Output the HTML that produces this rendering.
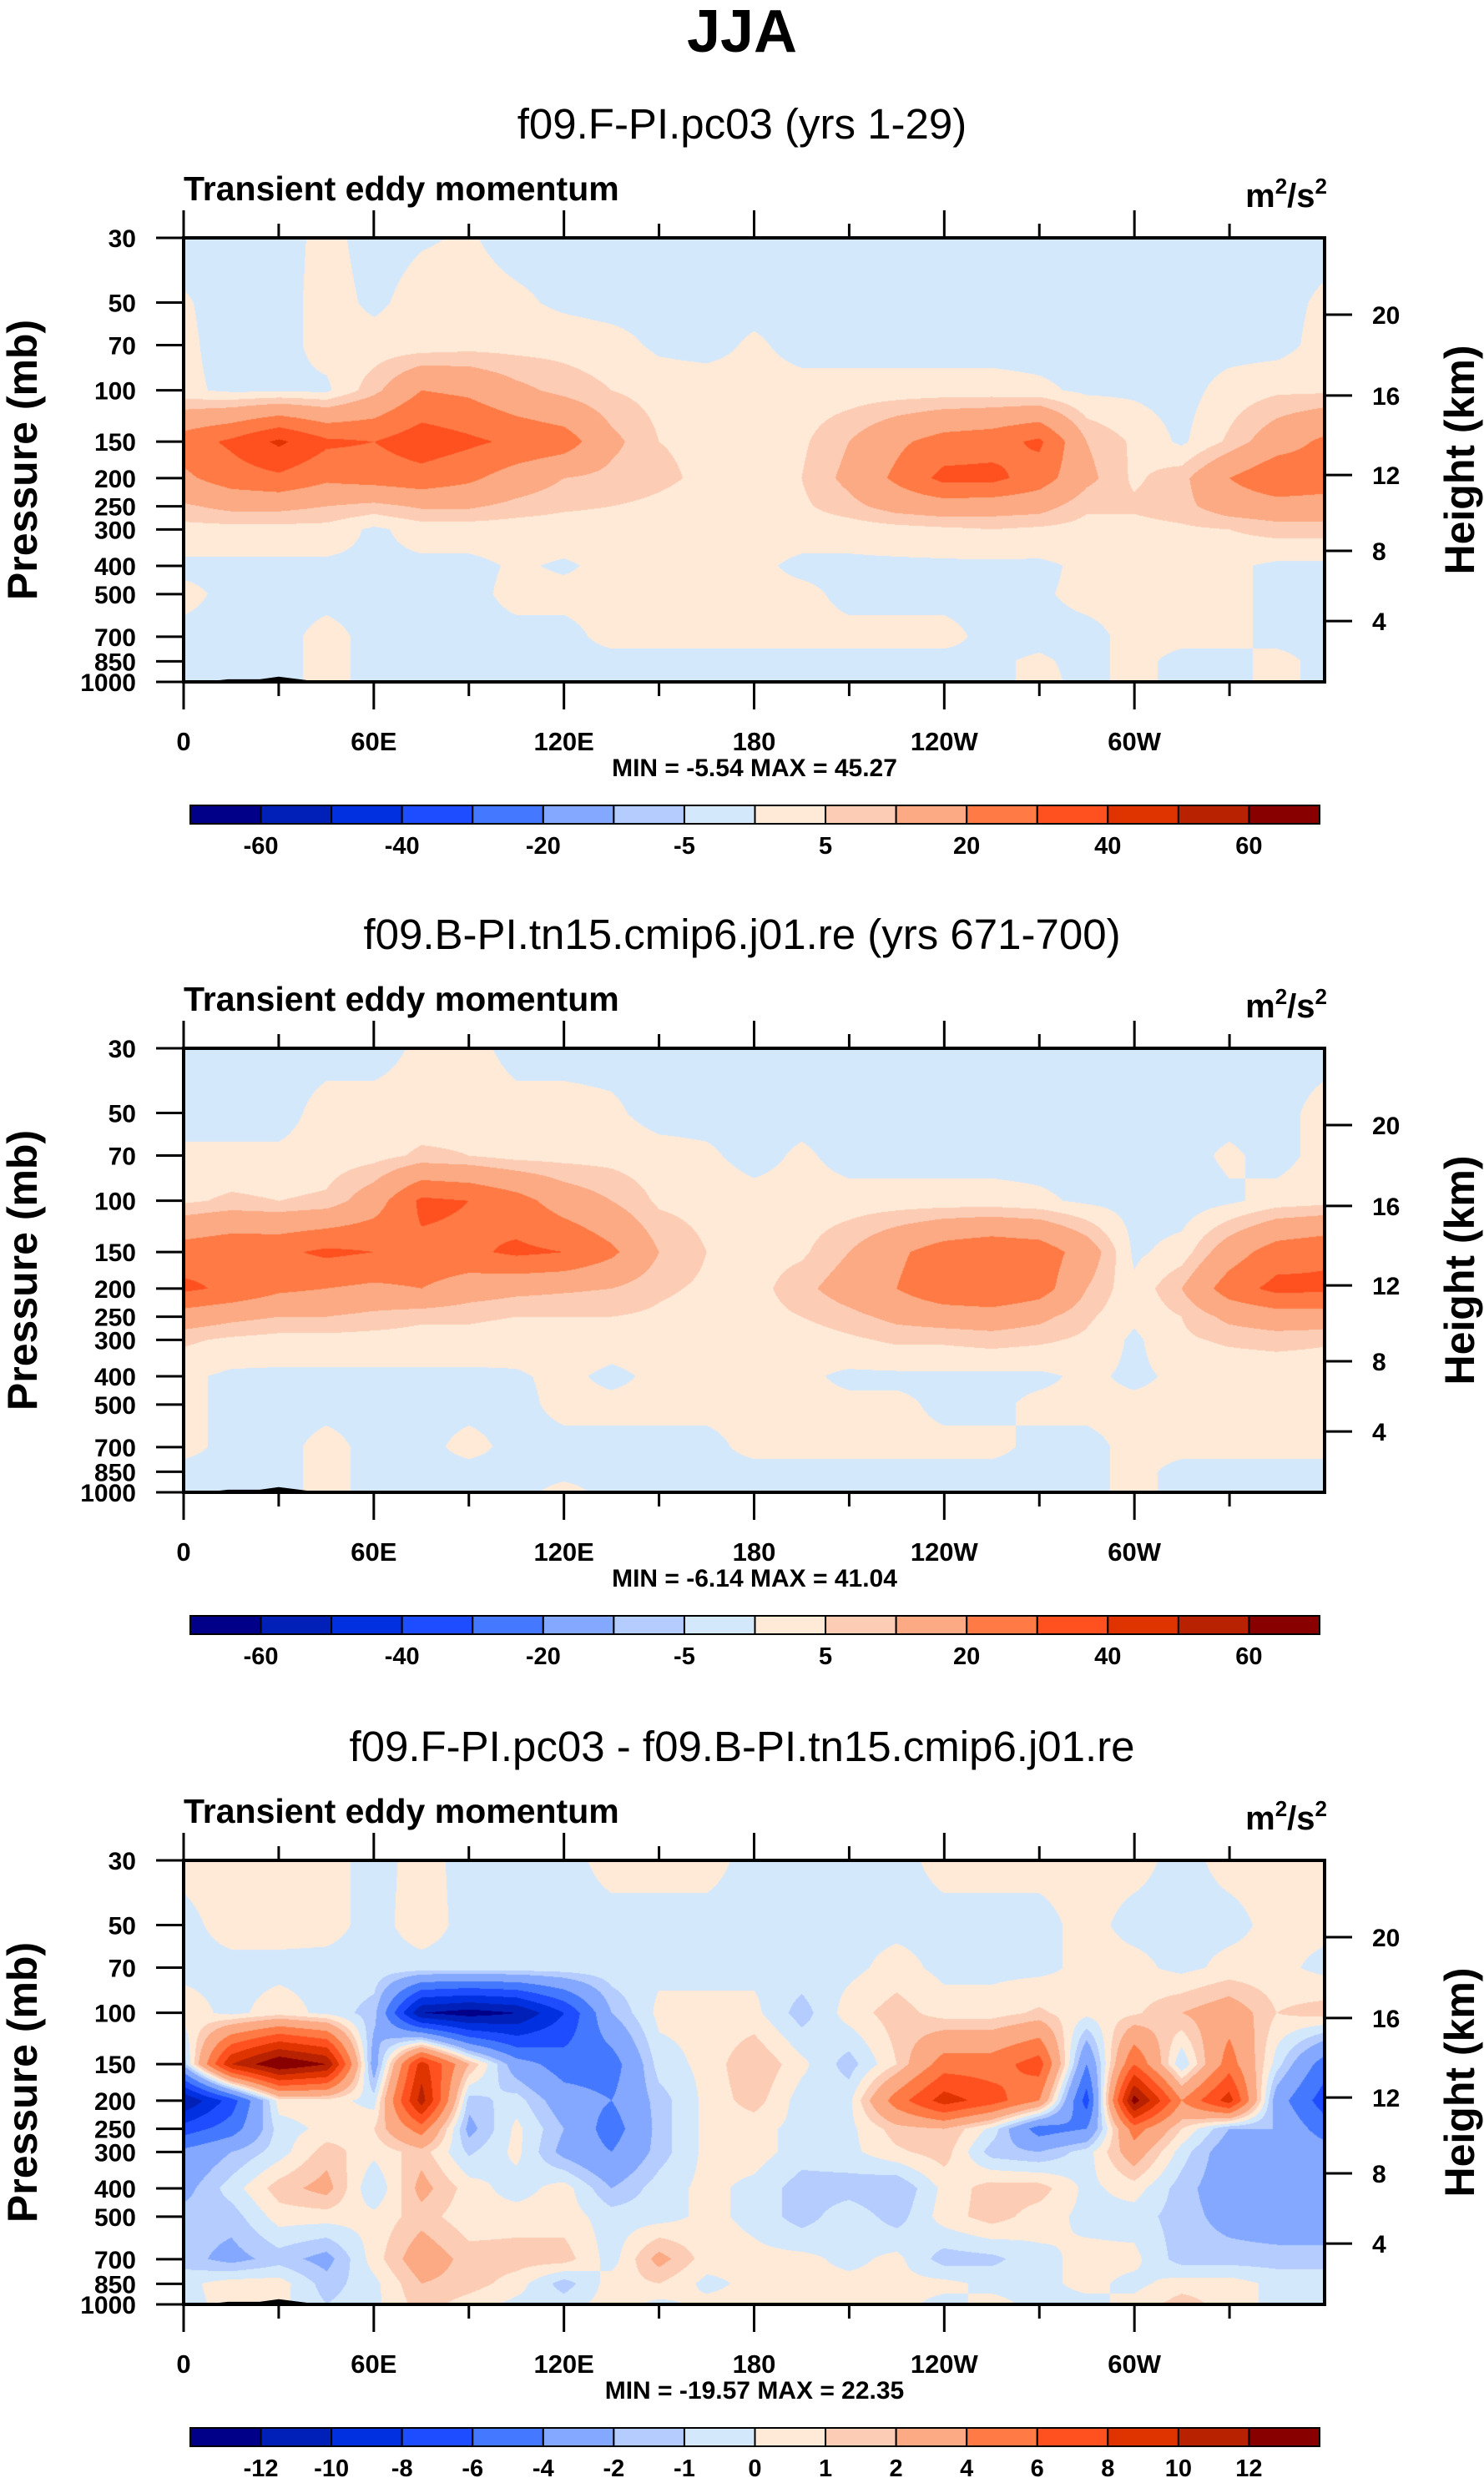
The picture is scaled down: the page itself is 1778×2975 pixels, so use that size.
<!DOCTYPE html>
<html><head><meta charset="utf-8">
<style>
html,body{margin:0;padding:0;background:#fff;}
#wrap{position:relative;width:1778px;height:2975px;overflow:hidden;font-family:"Liberation Sans",Arial,sans-serif;}
canvas{position:absolute;}
svg{position:absolute;left:0;top:0;}
text{font-family:"Liberation Sans",Arial,sans-serif;}
</style></head>
<body>
<div id="wrap">
<canvas id="c0"></canvas>
<canvas id="c1"></canvas>
<canvas id="c2"></canvas>
<svg id="ov" width="1778" height="2975">
<text x="889" y="62" text-anchor="middle" font-size="72" font-weight="bold">JJA</text>
<text x="889" y="166" text-anchor="middle" font-size="51">f09.F-PI.pc03 (yrs 1-29)</text>
<text x="889" y="1137" text-anchor="middle" font-size="51">f09.B-PI.tn15.cmip6.j01.re (yrs 671-700)</text>
<text x="889" y="2110" text-anchor="middle" font-size="51">f09.F-PI.pc03 - f09.B-PI.tn15.cmip6.j01.re</text>
</svg>
</div>
<script>
const lons = [0,15,30,45,60,75,90,105,120,135,150,165,180,195,210,225,240,255,270,285,300,315,330,345,360];
const levels = [30,50,70,100,150,200,250,300,400,500,700,850,1000];
const pTicks = [30,50,70,100,150,200,250,300,400,500,700,850,1000];
const hTicks = [20,16,12,8,4];
const hTickFrac = [0.173,0.355,0.534,0.705,0.863];
const xTickLabels = ["0","60E","120E","180","120W","60W"];
const contourLevelsAB = [-60,-50,-40,-30,-20,-10,-5,0,5,10,20,30,40,50,60];
const contourLevelsDiff = [-12,-10,-8,-6,-4,-2,-1,0,1,2,4,6,8,10,12];
const cbLabelsAB = ["-60","","-40","","-20","","-5","","5","","20","","40","","60"];
const cbLabelsDiff = ["-12","-10","-8","-6","-4","-2","-1","0","1","2","4","6","8","10","12"];
const palette = ["#000088","#0020b8","#0030e0","#1e4cff","#4478ff","#84a8ff","#b4ccff","#d4e8fc","#ffead8","#fdccb4","#fcaa84","#ff7a44","#ff5020","#e03400","#b82200","#880000"];
const minmax = ["MIN =  -5.54   MAX =  45.27","MIN =  -6.14   MAX =  41.04","MIN = -19.57  MAX = 22.35"];

const fieldA = [
[-2,-2,-2,1.5,-2,-0.5,0.5,-2,-2,-2,-2,-2,-2,-2,-2,-2,-2,-2,-2,-2,-2,-2,-2,-2,-2],
[0.5,-2,-2,2,-1,2,2,1,-1,-2,-2,-2,-2,-2,-2,-2,-2,-2,-2,-2,-2,-2,-2,-2,1],
[1,-2,-2,2,2,2,3,3,3,2,-1,-2,1,-2,-2,-2,-2,-2,-2,-2,-2,-2,-2,-2,2],
[1,-1,-1,-1,8,20,18,12,8,5,3,3,2,2,2,2,2,2,1,-1,-1,-2,2,4,4],
[25,32,42,32,30,36,32,28,25,12,5,4,2,4,10,18,24,26,32,10,4,-1,6,15,22],
[18,25,28,22,24,26,22,15,10,8,6,4,3,5,12,22,33,33,25,12,4,8,20,28,25],
[9,12,12,10,8,11,11,8,6,5,4,3,3,4,8,13,15,14,13,6,6,8,14,16,16],
[3,3,3,3,-1,2,2,2,2,2,2,2,2,2,2,3,4,5,4,3,3,4,5,7,7],
[-1,-1,-1,-1,-1,-1,-1,0.5,-0.5,1,1,1,1,-1,-1,-1,-1,-1,-1,1,1,1,1,-1,-1],
[1,-1,-1,-1,-1,-1,-1,1,1,1,1,1,1,1,-1,-1,-1,-1,-0.5,1,1,1,1,-1,-1],
[-1,-1,-1,1,-1,-1,-1,-1,-1,1,1,1,1,1,1,1,1,-1,-1,-1,1,1,1,-1,-1],
[-1,-1,-1,1,-1,-1,-1,-1,-1,-1,-1,-1,-1,-1,-1,-1,-1,-0.5,0.5,-1,1,-1,-1,1,-1],
[-1,-1,-1,1,-1,-1,-1,-1,-1,-1,-1,-1,-1,-1,-1,-1,-1,-1,1,-1,1,-1,-1,1,-1]
];
const fieldB = [
[-2,-2,-2,-2,-2,1,2,-2,-2,-2,-2,-2,-2,-2,-2,-2,-2,-2,-2,-2,-2,-2,-2,-2,-2],
[-2,-2,-2,2,2,2,3,2,2,1,-2,-2,-2,-2,-2,-2,-2,-2,-2,-2,-2,-2,-2,-2,2],
[1,1,1,2,3,6,5,3,3,3,2,1,-2,1,-2,-2,-2,-2,-2,-2,-2,-2,1,-2,2],
[4,6,5,6,15,32,30,24,15,10,4,3,2,2,2,2,2,2,1,-1,-2,-3,-1,2,3],
[25,28,28,32,30,28,28,32,30,22,10,5,3,4,10,18,25,28,26,15,-1,2,15,25,28],
[32,28,22,20,18,20,14,12,11,10,6,4,3,8,14,20,28,30,25,10,1,10,25,33,32],
[15,12,10,10,8,6,6,5,5,5,4,3,3,5,8,12,14,15,12,6,1,5,12,15,15],
[6,4,3,3,3,3,3,2,3,2,2,2,2,2,4,6,6,7,6,4,-1,4,6,7,6],
[1,-1,-1,-1,-1,-1,-1,-0.5,1,-1,1,1,1,1,-1,-1,-1,-1,-1,1,-1,1,1,1,1],
[1,-1,-1,-1,-1,-1,-1,-1,1,1,1,1,1,1,1,1,-1,-1,1,1,1,1,1,1,1],
[1,-1,-1,1,-1,-1,1,-1,-1,-1,-1,-1,1,1,1,1,1,1,-1,-1,1,1,1,1,1],
[-1,-1,-1,1,-1,-1,-1,-1,-1,-1,-1,-1,-1,-1,-1,-1,-1,-1,-1,-1,1,-1,-1,-1,-1],
[-1,-1,-1,1,-1,-1,-1,-1,1,-1,-1,-1,-1,-1,-1,-1,-1,-1,-1,-1,1,-1,-1,-1,-1]
];
const fieldDiff = [
[0.3,0.5,0.5,0.3,-0.3,0.3,-0.3,-0.3,-0.3,0.3,0.3,0.3,-0.3,-0.3,-0.3,-0.3,0.3,0.3,0.3,0.3,0.3,-0.3,0.3,0.3,0.3],
[-0.3,0.4,0.4,0.3,-0.3,0.4,-0.3,-0.3,-0.3,-0.3,-0.3,-0.3,-0.3,-0.3,-0.3,-0.3,-0.3,-0.3,-0.3,0.3,-0.3,-0.3,-0.3,0.3,0.3],
[-0.3,-0.3,-0.3,-0.3,-0.3,-0.3,-0.3,-0.3,-0.3,-0.3,-0.3,-0.3,-0.3,-0.3,-0.3,0.4,-0.3,-0.3,-0.3,0.3,0.3,-0.3,0.3,0.3,-0.3],
[0.5,-0.3,0.5,-0.3,-1.5,-12,-13,-12,-8,-2,0.3,0.3,0.3,-1.5,0.5,1.5,0.5,0.5,1.2,0.3,0.8,2,3,1,1.5],
[-1.5,10,14,12,-3,9,2,-3,-5,-5,-0.5,0.3,2,0.3,-1.5,1,5,5,7,-4,6,-1,5,-0.5,-5],
[-12,-7,0.5,0.6,-0.5,11,-1.5,-0.5,-3,-4,-1.5,0.3,1.5,-0.5,-0.3,5,9,7,4,-7,13,4,9,-3,-7],
[-7,-5,-0.5,0.3,1,5,-2.5,0.3,-2,-5,-1.5,0.3,0.3,-0.3,-0.3,1.5,2,-0.3,-5,-4,5,1,-2,-2,-5],
[-3.5,-2,-0.5,1.5,0.3,1.5,-1.2,0.3,-2.5,-4,-1.5,0.3,0.5,-0.5,-0.3,0.8,1.5,-1.5,-2,-0.5,3,-0.5,-3,-2,-3],
[-2.5,-0.5,1.5,2.5,-1,2.5,0.5,-0.5,0.5,-2,-0.5,0.3,-0.3,-1.5,-1.5,-2,0.3,1.5,1.5,-0.3,0.5,-1.5,-3,-2.5,-3],
[-1.5,-1.5,0.5,0.5,0.3,1.5,0.3,0.5,0.5,-0.5,-0.5,0.3,-0.3,-1.5,-0.3,-1.5,0.5,1.5,0.5,-0.3,-0.5,-1.5,-2.5,-3,-3],
[-1.5,-2.5,-1.5,-2.5,0.5,3,1.5,1.5,1.5,-0.5,2.5,0.5,0.3,0.3,-0.3,0.3,-1.5,-1.3,-0.3,0.3,0.3,-1.5,-1.5,-1.5,-1.5],
[-0.3,0.5,0.5,-1.5,-0.3,2,1.5,0.5,-1.5,0.5,1,-0.3,0.3,0.3,0.3,0.3,0.3,-0.3,-0.3,0.3,-0.3,0.5,0.5,-0.3,-0.3],
[-0.3,0.3,0.3,-1,-0.3,1.5,0.5,-0.3,-0.5,0.5,-0.3,0.3,0.3,0.3,0.3,0.3,-0.3,0.3,-0.3,-0.3,0.3,1.5,0.5,-0.3,-0.3]
];
const topoLon = [10,14,24,30,40,97,99,292,296,300,310];
const topoP   = [990,980,980,960,990,990,990,995,990,995,995];

const panels = [
 {field:fieldA, lev:contourLevelsAB, cbl:cbLabelsAB, dy:0},
 {field:fieldB, lev:contourLevelsAB, cbl:cbLabelsAB, dy:971},
 {field:fieldDiff, lev:contourLevelsDiff, cbl:cbLabelsDiff, dy:1944}
];
const PX0=220, PX1=1587, PY0=285, PH=532, PW=PX1-PX0;
const LOGR=Math.log(1000/30);
function xOf(lon){return PX0+lon/360*PW;}
function fracP(p){return Math.log(p/30)/LOGR;}
function yOf(p,dy){return PY0+dy+fracP(p)*PH;}
const NS="http://www.w3.org/2000/svg";
const svg=document.getElementById('ov');
function mk(tag,attrs,txt){const e=document.createElementNS(NS,tag);for(const k in attrs)e.setAttribute(k,attrs[k]);if(txt!==undefined)e.textContent=txt;svg.appendChild(e);return e;}
function hex(c){return [parseInt(c.substr(1,2),16),parseInt(c.substr(3,2),16),parseInt(c.substr(5,2),16)];}
const palRGB=palette.map(hex);
const levFr=levels.map(fracP);

function valueAt(field,lon,fr){
  let j=lon/15; let j0=Math.min(Math.floor(j),lons.length-2); let tj=j-j0;
  let i0=0; while(i0<levels.length-2 && levFr[i0+1]<fr) i0++;
  let ti=(fr-levFr[i0])/(levFr[i0+1]-levFr[i0]); ti=Math.max(0,Math.min(1,ti));
  const a=field[i0][j0],b=field[i0][j0+1],c=field[i0+1][j0],d=field[i0+1][j0+1];
  return (a*(1-tj)+b*tj)*(1-ti)+(c*(1-tj)+d*tj)*ti;
}

panels.forEach((pn,k)=>{
  const dy=pn.dy;
  const cv=document.getElementById('c'+k);
  cv.width=PW; cv.height=PH;
  cv.style.left=PX0+'px'; cv.style.top=(PY0+dy)+'px';
  const ctx=cv.getContext('2d');
  const img=ctx.createImageData(PW,PH);
  for(let y=0;y<PH;y++){
    const fr=y/(PH-1);
    for(let x=0;x<PW;x++){
      const v=valueAt(pn.field,x/(PW-1)*360,fr);
      let ci=0; while(ci<pn.lev.length && v>=pn.lev[ci]) ci++;
      const c=palRGB[ci]; const o=(y*PW+x)*4;
      img.data[o]=c[0];img.data[o+1]=c[1];img.data[o+2]=c[2];img.data[o+3]=255;
    }
  }
  ctx.putImageData(img,0,0);
  let d='M'+xOf(topoLon[0])+','+yOf(1000,dy);
  topoLon.forEach((ln,i)=>{d+=' L'+xOf(ln)+','+yOf(topoP[i],dy);});
  d+=' L'+xOf(topoLon[topoLon.length-1])+','+yOf(1000,dy)+' Z';
  const tp=mk('path',{d:d,fill:'#000'});
  
  

  const fr=mk('rect',{x:PX0,y:PY0+dy,width:PW,height:PH,fill:'none',stroke:'#000','stroke-width':4});
  
  
  for(let lon=0;lon<=330;lon+=30){
    const major=lon%60===0; const L=major?33:17; const x=xOf(lon);
    const t1=mk('line',{x1:x,x2:x,y1:PY0+dy,y2:PY0+dy-L,stroke:'#000','stroke-width':3});
    
    
    const t2=mk('line',{x1:x,x2:x,y1:PY0+dy+PH,y2:PY0+dy+PH+L,stroke:'#000','stroke-width':3});
    
    
    if(major){
      const tl=mk('text',{x:x,y:PY0+dy+PH+82,'text-anchor':'middle','font-size':31,'font-weight':'bold'},xTickLabels[lon/60]);
      
      
    }
  }
  pTicks.forEach(p=>{
    const y=yOf(p,dy);
    const t=mk('line',{x1:PX0-33,x2:PX0,y1:y,y2:y,stroke:'#000','stroke-width':3});
    
    
    const tl=mk('text',{x:163,y:y+11,'text-anchor':'end','font-size':30,'font-weight':'bold'},String(p));
    
    
  });
  hTicks.forEach((h,i)=>{
    const y=PY0+dy+hTickFrac[i]*PH;
    const t=mk('line',{x1:PX1,x2:PX1+33,y1:y,y2:y,stroke:'#000','stroke-width':3});
    
    
    const tl=mk('text',{x:1644,y:y+11,'font-size':30,'font-weight':'bold'},String(h));
    
    
  });
  const lt=mk('text',{x:220,y:240+dy,'font-size':41,'font-weight':'bold'},'Transient eddy momentum');
  
  
  const un=mk('text',{x:1590,y:248+dy,'text-anchor':'end','font-size':40,'font-weight':'bold'});
  
  
  un.innerHTML='m<tspan dy="-16" font-size="26">2</tspan><tspan dy="16">/s</tspan><tspan dy="-16" font-size="26">2</tspan>';
  const ya=mk('text',{x:0,y:0,'text-anchor':'middle','font-size':50,'font-weight':'bold',transform:'translate(44,'+(551+dy)+') rotate(-90)'},'Pressure (mb)');
  
  
  const yb=mk('text',{x:0,y:0,'text-anchor':'middle','font-size':50,'font-weight':'bold',transform:'translate(1766,'+(551+dy)+') rotate(-90)'},'Height (km)');
  
  
  const mm=mk('text',{x:904,y:930+dy,'text-anchor':'middle','font-size':30,'font-weight':'bold','xml:space':'preserve'},minmax[k]);
  
  
  const cbx0=228, cbx1=1581, cby=965+dy, cbh=22, bw=(cbx1-cbx0)/palette.length;
  palette.forEach((c,i)=>{
    const r=mk('rect',{x:cbx0+i*bw,y:cby,width:bw,height:cbh,fill:c,stroke:'#000','stroke-width':2});
    
    
  });
  pn.cbl.forEach((s,i)=>{
    if(!s) return;
    const t=mk('text',{x:cbx0+(i+1)*bw,y:1023+dy,'text-anchor':'middle','font-size':29,'font-weight':'bold'},s);
    
    
  });
});
</script>
</body></html>
